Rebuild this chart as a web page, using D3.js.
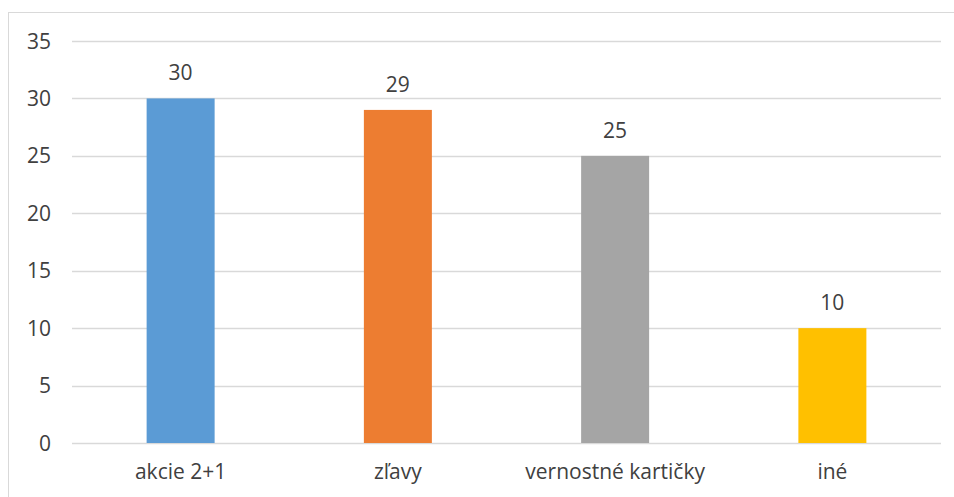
<!DOCTYPE html>
<html>
<head>
<meta charset="utf-8">
<script src="https://cdn.jsdelivr.net/npm/d3@7"></script>
<style>
  html, body { margin: 0; padding: 0; background: #fff; }
  svg { display: block; }
  text { font-family: "Open Sans", sans-serif; fill: #404040; }
</style>
</head>
<body>
<svg id="chart" width="954" height="497"></svg>
<script>
// Survey answers and their counts
const categories = ["akcie 2+1", "zľavy", "vernostné kartičky", "iné"];
const values = [30, 29, 25, 10];
const barColors = ["#5b9bd5", "#ed7d31", "#a5a5a5", "#ffc000"];
const yTicks = [0, 5, 10, 15, 20, 25, 30, 35];

(function () {
  const svg = d3.select("#chart");
  const font = "'Open Sans', sans-serif";
  const fontSize = 21;

  // chart frame
  svg.append("rect")
    .attr("x", 8.5).attr("y", 12.5)
    .attr("width", 960).attr("height", 500)
    .attr("fill", "#fff")
    .attr("stroke", "#d9d9d9").attr("stroke-width", 1);

  const plot = { left: 72, right: 941, top: 41, bottom: 443 };

  const x = d3.scaleBand().domain(categories).range([plot.left, plot.right]).paddingInner(0).paddingOuter(0);
  const y = d3.scaleLinear().domain([0, 35]).range([plot.bottom, plot.top]);

  // horizontal gridlines
  svg.append("g").selectAll("line").data(yTicks).join("line")
    .attr("x1", plot.left).attr("x2", plot.right)
    .attr("y1", d => Math.round(y(d)) + 0.5).attr("y2", d => Math.round(y(d)) + 0.5)
    .attr("stroke", "#d9d9d9").attr("stroke-width", 1.5);

  // y axis labels
  const yAxis = d3.axisLeft(y).tickValues(yTicks).tickSize(0).tickPadding(0);
  const gy = svg.append("g").attr("transform", "translate(51,0)").call(yAxis);
  gy.select(".domain").remove();
  gy.selectAll("text").attr("font-size", fontSize).style("fill", "#404040")
    .style("font-family", font).attr("dy", "0.34em");

  // bars
  const barW = 68;
  svg.append("g").selectAll("rect").data(values).join("rect")
    .attr("x", (d, i) => x(categories[i]) + x.bandwidth() / 2 - barW / 2)
    .attr("width", barW)
    .attr("y", d => y(d))
    .attr("height", d => y(0) - y(d))
    .attr("fill", (d, i) => barColors[i]);

  // value labels
  svg.append("g").selectAll("text").data(values).join("text")
    .attr("x", (d, i) => x(categories[i]) + x.bandwidth() / 2)
    .attr("y", d => y(d) - 18)
    .attr("text-anchor", "middle")
    .attr("font-size", fontSize)
    .text(d => d);

  // category labels
  const xAxis = d3.axisBottom(x).tickSize(0).tickPadding(0);
  const gx = svg.append("g").attr("transform", `translate(0,${plot.bottom + 29})`).call(xAxis);
  gx.select(".domain").remove();
  gx.selectAll("text").attr("font-size", fontSize).attr("dy", "0.34em").style("fill", "#404040")
    .style("font-family", font);
})();
</script>
</body>
</html>
